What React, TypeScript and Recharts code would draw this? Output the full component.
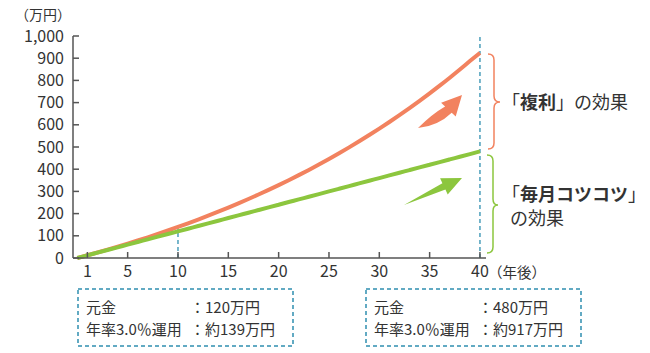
import { Line, LineChart, ReferenceLine, XAxis, YAxis } from "recharts";

const years = [
  0, 1, 2, 3, 4, 5, 6, 7, 8, 9, 10, 11, 12, 13, 14, 15, 16, 17, 18, 19, 20, 21, 22, 23, 24, 25, 26,
  27, 28, 29, 30, 31, 32, 33, 34, 35, 36, 37, 38, 39, 40,
];
// 年率3.0%運用（万円）
const compound = [
  0, 12.2, 24.7, 37.6, 50.9, 64.6, 78.7, 93.3, 108.3, 123.8, 139.7, 156.2, 173.1, 190.5, 208.5,
  227.0, 246.1, 265.7, 285.9, 306.8, 328.3, 350.5, 373.3, 396.8, 421.1, 446.0, 471.8, 498.3, 525.6,
  553.8, 582.8, 612.6, 643.4, 675.2, 707.9, 741.6, 776.3, 812.1, 849.0, 887.0, 924.0,
];
// 元金（万円）
const principal = [
  0, 12, 24, 36, 48, 60, 72, 84, 96, 108, 120, 132, 144, 156, 168, 180, 192, 204, 216, 228, 240,
  252, 264, 276, 288, 300, 312, 324, 336, 348, 360, 372, 384, 396, 408, 420, 432, 444, 456, 468, 480,
];
const xTicks = [1, 5, 10, 15, 20, 25, 30, 35, 40];
const yTicks = [0, 100, 200, 300, 400, 500, 600, 700, 800, 900, 1000];

const data = years.map((year, i) => ({ year, compound: compound[i], principal: principal[i] }));

const FONT = "'Noto Sans CJK JP', 'Noto Sans', sans-serif";
const TXT = "#333";
const AXIS = "#555";
const RED = "#f2825f";
const GREEN = "#8cc63e";
const TEAL = "#2f8fb0";

const YTick = (props: any) => {
  const { x, y, payload } = props;
  return (
    <g>
      <line x1={x + 9} x2={x + 15} y1={y} y2={y} stroke={AXIS} strokeWidth={1.5} />
      <text x={x} y={y} dy={5.5} textAnchor="end" fill={TXT} fontSize={16} fontFamily={FONT}>
        {payload.value.toLocaleString("en-US")}
      </text>
    </g>
  );
};

const XTick = (props: any) => {
  const { x, y, payload } = props;
  return (
    <g>
      <line x1={x} x2={x} y1={y} y2={y - 6} stroke={AXIS} strokeWidth={1.5} />
      <text x={x} y={y} dy={19} textAnchor="middle" fill={TXT} fontSize={16} fontFamily={FONT}>
        {payload.value}
      </text>
    </g>
  );
};

function InfoBox({ x, amount, result }: { x: number; amount: string; result: string }) {
  return (
    <g fontFamily={FONT} fontSize={15} fill={TXT}>
      <rect x={x} y={289} width={215} height={57} fill="none" stroke={TEAL} strokeWidth={1.5} strokeDasharray="4 3" />
      <text x={x + 8} y={306} dominantBaseline="central">元金</text>
      <text x={x + 112} y={306} dominantBaseline="central">：{amount}</text>
      <text x={x + 8} y={328} dominantBaseline="central">年率3.0％運用</text>
      <text x={x + 112} y={328} dominantBaseline="central">：{result}</text>
    </g>
  );
}

export default function App() {
  return (
    <div style={{ position: "absolute", left: 0, top: 0, width: 650, height: 353, background: "#fff" }}>
      <LineChart width={650} height={353} data={data} margin={{ top: 36, right: 164, bottom: 0, left: 0 }}>
        <XAxis
          dataKey="year"
          type="number"
          domain={[-0.43, 40.6]}
          ticks={xTicks}
          interval={0}
          allowDataOverflow
          height={95}
          tickSize={0}
          tickMargin={0}
          tick={<XTick />}
          axisLine={{ stroke: AXIS, strokeWidth: 1.5 }}
          tickLine={false}
        />
        <YAxis
          domain={[0, 1000]}
          ticks={yTicks}
          interval={0}
          width={73}
          tickSize={0}
          tickMargin={9}
          tick={<YTick />}
          axisLine={{ stroke: AXIS, strokeWidth: 1.5 }}
          tickLine={false}
        />
        <ReferenceLine
          segment={[{ x: 10, y: 0 }, { x: 10, y: compound[10] }]}
          stroke={TEAL}
          strokeWidth={1.3}
          strokeDasharray="4 3"
        />
        <ReferenceLine
          segment={[{ x: 40, y: 0 }, { x: 40, y: 1000 }]}
          stroke={TEAL}
          strokeWidth={1.3}
          strokeDasharray="4 3"
        />
        <Line type="monotone" dataKey="compound" stroke={RED} strokeWidth={4} dot={false} isAnimationActive={false} />
        <Line type="monotone" dataKey="principal" stroke={GREEN} strokeWidth={4} dot={false} isAnimationActive={false} />
      </LineChart>
      <svg width={650} height={353} style={{ position: "absolute", left: 0, top: 0, pointerEvents: "none" }}>
        <text x={15} y={14} dominantBaseline="central" fontFamily={FONT} fontSize={14} fill={TXT}>（万円）</text>
        <text x={488} y={271} dominantBaseline="central" fontFamily={FONT} fontSize={14.5} fill={TXT}>（年後）</text>

        <path
          d="M488,54 Q494,54 494,60 L494,96 Q494,102 500,102 Q494,102 494,108 L494,143 Q494,149 488,149"
          fill="none"
          stroke={RED}
          strokeWidth={1.5}
        />
        <path
          d="M487,155 Q493,155 493,161 L493,199 Q493,205 498,205 Q493,205 493,211 L493,247 Q493,253 487,253"
          fill="none"
          stroke={GREEN}
          strokeWidth={1.5}
        />

        <path
          d="M418,128 Q432,114 445.1,106.5 L441.1,102.8 L462,95 L455.7,116.4 L451.7,112.7 Q438,126 418,128 Z"
          fill={RED}
        />
        <path d="M404,205 L442.4,183.2 L440.1,178.2 L462,178 L447.7,194.6 L445.4,189.6 Z" fill={GREEN} />

        <g fontFamily={FONT} fontSize={18} fill={TXT}>
          <text x={502} y={101} dominantBaseline="central">
            「<tspan fontWeight="bold">複利</tspan>」の効果
          </text>
          <text x={502} y={193} dominantBaseline="central">
            「<tspan fontWeight="bold">毎月コツコツ</tspan>」
          </text>
          <text x={510} y={217} dominantBaseline="central">の効果</text>
        </g>

        <InfoBox x={78} amount="120万円" result="約139万円" />
        <InfoBox x={366} amount="480万円" result="約917万円" />
      </svg>
    </div>
  );
}
